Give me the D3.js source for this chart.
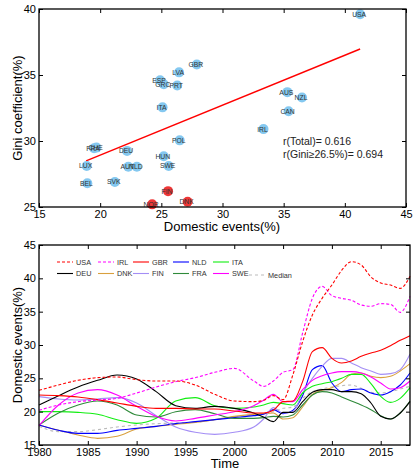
<!DOCTYPE html>
<html>
<head>
<meta charset="utf-8">
<script src="https://cdn.jsdelivr.net/npm/d3@7"></script>
<style>
body{margin:0;background:#fff;}
svg{display:block;}
text{font-family:"Liberation Sans",Arial,Helvetica,sans-serif;}
</style>
</head>
<body>
<svg id="chart" width="414" height="470"></svg>
<script>
// ---- scatter data (top panel)
const countries = ["USA","GBR","LVA","ESP","GRC","PRT","ITA","POL","FRA","CHE","DEU","HUN","LUX","AUT","NLD","SWE","BEL","SVK","FIN","DNK","NOR","AUS","NZL","CAN","IRL"];
const domestic  = [41.25,27.9,26.45,24.9,25.2,26.3,25.1,26.5,19.5,19.7,22.2,25.2,18.9,22.3,23.0,25.6,18.95,21.2,25.55,27.15,24.25,35.3,36.5,35.4,33.35];
const gini      = [39.6,35.8,35.2,34.6,34.3,34.2,32.55,30.05,29.45,29.5,29.25,28.85,28.1,28.05,28.05,28.1,26.8,26.9,26.2,25.4,25.2,33.7,33.3,32.25,30.9];
const lowGini = ["FIN","DNK","NOR"];
const fitX = [18.85, 41.25];
const fitY = [28.5, 36.97];
const rLabels = ["r(Total)= 0.616", "r(Gini\u226526.5%)= 0.694"];

// ---- time series data (bottom panel)
const years = [1980,1982,1984,1986,1988,1990,1992,1994,1996,1998,2000,2002,2003,2004,2005,2006,2007,2008,2009,2010,2011,2012,2013,2014,2015,2016,2017,2018];
const usa = [23.2,24.0,24.7,25.1,25.2,24.8,24.6,24.6,24.0,22.6,21.6,21.5,21.7,22.4,21.8,25.5,30.5,34.5,37.0,39.0,41.2,42.5,42.0,40.2,39.3,39.0,38.5,40.3];
const irl = [20.2,21.0,21.5,21.75,22.0,22.8,23.7,24.5,25.1,25.9,26.5,24.6,23.8,24.6,25.9,26.3,31.8,37.0,38.8,37.4,37.0,36.7,36.0,35.8,36.2,36.1,34.9,37.3];
const gbr = [22.5,22.4,22.2,21.8,21.3,20.8,20.5,20.5,20.4,20.4,20.1,19.8,19.8,20.2,21.5,21.6,24.5,29.0,29.6,28.0,27.3,27.6,28.3,28.8,29.2,29.9,30.7,31.4];
const nld = [18.0,17.2,16.75,16.75,17.2,17.5,17.8,18.2,18.5,18.8,19.1,19.4,19.6,20.3,19.7,20.2,22.4,26.3,26.9,24.3,23.0,23.3,23.4,22.8,22.5,23.0,24.0,25.8];
const ita = [20.0,20.0,19.9,19.6,18.8,18.25,19.0,21.6,22.1,20.9,20.5,20.7,21.0,21.4,21.2,21.0,22.8,23.8,24.2,24.5,25.0,25.6,25.6,24.2,22.3,21.4,22.0,23.6];
const deu = [21.0,22.4,23.7,24.7,25.5,24.9,23.0,20.9,20.5,20.8,20.5,19.8,19.2,18.5,19.9,19.9,21.5,22.9,23.3,23.3,23.0,23.0,22.7,21.3,19.3,18.9,19.8,21.5];
const dnk = [18.0,17.2,16.5,16.0,16.3,17.4,17.8,18.1,18.4,18.8,19.3,19.6,19.7,19.8,18.9,19.1,20.7,22.6,23.2,23.6,24.4,25.6,25.8,25.3,25.1,25.3,26.1,27.2];
const fin = [22.25,21.9,21.75,21.9,22.1,21.3,19.4,17.7,16.9,16.6,16.9,17.7,18.9,20.6,19.8,20.0,22.8,25.0,26.8,28.0,28.0,27.3,26.6,26.1,25.6,25.7,26.3,28.6];
const fra = [18.0,19.8,21.0,21.6,21.0,19.5,19.2,20.0,20.3,19.7,19.0,19.0,19.1,19.3,19.2,19.5,21.0,22.5,23.0,22.8,22.2,21.6,21.0,20.3,19.4,18.9,19.8,21.6];
const swe = [17.9,21.0,22.8,23.3,22.5,20.8,19.3,18.6,19.0,19.5,20.0,20.9,21.7,22.6,21.5,21.5,23.3,24.7,25.4,25.8,26.0,26.0,25.8,25.2,24.3,23.4,23.6,24.6];
const median = [17.8,17.0,17.0,17.3,17.7,18.0,18.2,18.3,18.4,18.8,19.2,19.5,19.7,20.0,20.5,20.7,22.0,23.0,23.4,23.7,23.9,24.0,23.5,22.9,22.8,23.0,23.4,23.8];

const seriesNames = ["USA","IRL","GBR","NLD","ITA","DEU","DNK","FIN","FRA","SWE","Median"];
const seriesValues = [usa, irl, gbr, nld, ita, deu, dnk, fin, fra, swe, median];
const seriesColors = ["#ff0000","#ff00ff","#ff0000","#0000ff","#11ee11","#000000","#d9a03e","#a48ef5","#2f8a3a","#ff00ff","#bbbbbb"];
const seriesDash   = ["3,2","3,2",null,null,null,null,null,null,null,null,"3,3"];

const xTicksTop = [15,20,25,30,35,40,45];
const yTicksTop = [25,30,35,40];
const xTicksBot = [1980,1985,1990,1995,2000,2005,2010,2015];
const yTicksBot = [15,20,25,30,35,40,45];

const svg = d3.select("#chart");

function boxAxes(g, x, y, xt, yt){
    let r = x.range(), b = y.range();
    g.append("g").attr("transform", "translate(0," + b[0] + ")")
        .call(d3.axisBottom(x).tickValues(xt).tickSizeInner(-4).tickSizeOuter(0).tickPadding(3).tickFormat(d3.format("d")));
    g.append("g").attr("transform", "translate(0," + b[1] + ")")
        .call(d3.axisTop(x).tickValues(xt).tickSizeInner(-4).tickSizeOuter(0).tickFormat(""));
    g.append("g").attr("transform", "translate(" + r[0] + ",0)")
        .call(d3.axisLeft(y).tickValues(yt).tickSizeInner(-4).tickSizeOuter(0).tickPadding(3));
    g.append("g").attr("transform", "translate(" + r[1] + ",0)")
        .call(d3.axisRight(y).tickValues(yt).tickSizeInner(-4).tickSizeOuter(0).tickFormat(""));
    g.selectAll(".domain").remove();
    g.selectAll(".tick line").attr("stroke", "#000").attr("stroke-width", 1);
    g.selectAll(".tick text").attr("font-size", 11).attr("fill", "#000")
        .attr("font-family", "'Liberation Sans',Arial,sans-serif");
    g.append("rect").attr("x", r[0]).attr("y", b[1])
        .attr("width", r[1] - r[0]).attr("height", b[0] - b[1])
        .attr("fill", "none").attr("stroke", "#000").attr("stroke-width", 1.3);
}

// ---------- top panel
let xTop = d3.scaleLinear().domain([15,45]).range([39,406]);
let yTop = d3.scaleLinear().domain([25,40]).range([207,9]);
let topPanel = svg.append("g");

topPanel.append("line")
    .attr("x1", xTop(fitX[0])).attr("y1", yTop(fitY[0]))
    .attr("x2", xTop(fitX[1])).attr("y2", yTop(fitY[1]))
    .attr("stroke", "#ff0000").attr("stroke-width", 1.4);

let pts = countries.map((c,i) => ({c: c, x: domestic[i], y: gini[i]}));
topPanel.selectAll("circle.pt").data(pts).enter().append("circle")
    .attr("class", "pt")
    .attr("cx", d => xTop(d.x)).attr("cy", d => yTop(d.y)).attr("r", 5)
    .attr("fill", d => lowGini.includes(d.c) ? "#ee3636" : "#84c8f0");
topPanel.selectAll("text.lab").data(pts).enter().append("text")
    .attr("class", "lab")
    .attr("x", d => xTop(d.x) - 1).attr("y", d => yTop(d.y) + 2.4)
    .attr("text-anchor", "middle").attr("font-size", 6.8).attr("fill", "#333")
    .text(d => d.c);

boxAxes(topPanel, xTop, yTop, xTicksTop, yTicksTop);

topPanel.selectAll("text.r").data(rLabels).enter().append("text")
    .attr("class", "r")
    .attr("x", 283).attr("y", (d,i) => 145 + i*12.5)
    .attr("font-size", 10.5).attr("fill", "#222").text(d => d);

topPanel.append("text").attr("x", 222).attr("y", 231).attr("text-anchor", "middle")
    .attr("font-size", 13).text("Domestic events(%)");
topPanel.append("text").attr("transform", "translate(22,108) rotate(-90)")
    .attr("text-anchor", "middle").attr("font-size", 13).text("Gini coefficient(%)");

// ---------- bottom panel
let xBot = d3.scaleLinear().domain([1980,2018]).range([39,410]);
let yBot = d3.scaleLinear().domain([15,45]).range([445,245]);
let botPanel = svg.append("g");

let line = d3.line()
    .x((d,i) => xBot(years[i]))
    .y(d => yBot(d))
    .curve(d3.curveMonotoneX);

let drawOrder = [10,6,3,7,4,8,5,9,2,1,0];
botPanel.selectAll("path.series").data(drawOrder).enter().append("path")
    .attr("class", "series")
    .attr("d", k => line(seriesValues[k]))
    .attr("fill", "none")
    .attr("stroke", k => seriesColors[k])
    .attr("stroke-width", 1.1)
    .attr("stroke-dasharray", k => seriesDash[k]);

boxAxes(botPanel, xBot, yBot, xTicksBot, yTicksBot);

// legend
let legCols = [57, 98, 133, 173, 213, 249];
let legRows = [262, 273.5];
let legend = botPanel.selectAll("g.leg").data(seriesNames).enter().append("g")
    .attr("class", "leg")
    .attr("transform", (d,i) => {
        let row = i < 5 ? 0 : 1;
        let col = i < 5 ? i : i - 5;
        return "translate(" + legCols[col] + "," + (legRows[row] + (i === 10 ? 1.5 : 0)) + ")";
    });
legend.append("line").attr("x1", 0).attr("x2", 16).attr("y1", 0).attr("y2", 0)
    .attr("stroke", (d,i) => seriesColors[i]).attr("stroke-width", 1.1)
    .attr("stroke-dasharray", (d,i) => seriesDash[i]);
legend.append("text").attr("x", 19).attr("y", 2.6)
    .attr("font-size", 7.3).attr("fill", "#333").text(d => d);

botPanel.append("text").attr("x", 225).attr("y", 468).attr("text-anchor", "middle")
    .attr("font-size", 13).text("Time");
botPanel.append("text").attr("transform", "translate(22,345) rotate(-90)")
    .attr("text-anchor", "middle").attr("font-size", 13).text("Domestic events(%)");
</script>
</body>
</html>
